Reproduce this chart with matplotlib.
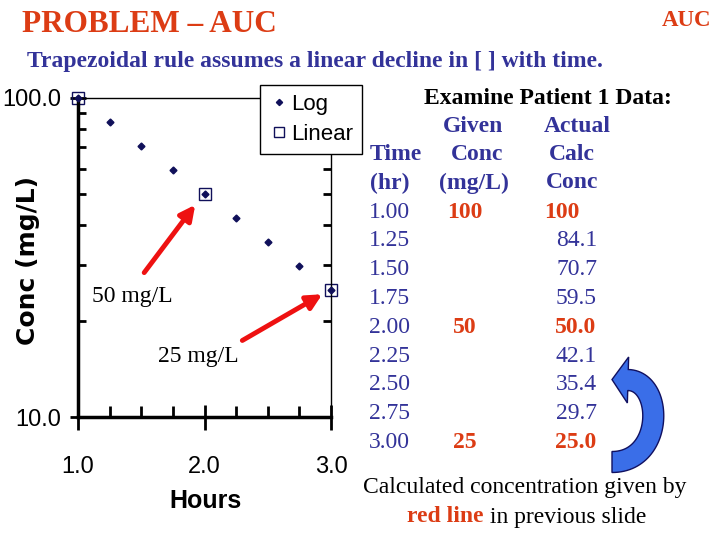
import numpy as np
import matplotlib
matplotlib.use("Agg")
import matplotlib.pyplot as plt
from matplotlib.patches import Polygon
from matplotlib.ticker import LogLocator, NullFormatter, FixedLocator

# data (patient 1)
hours = [1.00, 1.25, 1.50, 1.75, 2.00, 2.25, 2.50, 2.75, 3.00]
calc_conc = [100, 84.1, 70.7, 59.5, 50.0, 42.1, 35.4, 29.7, 25.0]
given_hours = [1.0, 2.0, 3.0]
given_conc = [100, 50, 25]

time_labels = ["1.00", "1.25", "1.50", "1.75", "2.00", "2.25", "2.50", "2.75", "3.00"]
given_labels = ["100", "", "", "", "50", "", "", "", "25"]
calc_labels = ["100", "84.1", "70.7", "59.5", "50.0", "42.1", "35.4", "29.7", "25.0"]

NAVY = "#333399"
RED = "#dc3c14"
SERIF = ["Liberation Serif", "DejaVu Serif"]
SANS = ["Liberation Sans", "DejaVu Sans"]
FS = 17

fig = plt.figure(figsize=(7.2, 5.4), dpi=100)

def px(x, y):
    return (x / 720, 1 - y / 540)

ax = fig.add_axes([78 / 720, 1 - 417 / 540, 253 / 720, 319 / 540])
ax.set_yscale("log")
ax.set_xlim(1.0, 3.0)
ax.set_ylim(10, 100)

ax.plot(hours, calc_conc, linestyle="none", marker="D", markersize=3.5,
        color="#10105a", label="Log", zorder=3, clip_on=False)
ax.plot(given_hours, given_conc, linestyle="none", marker="s", markersize=8,
        markerfacecolor="none", markeredgecolor="#10105a", markeredgewidth=1,
        label="Linear", clip_on=False, zorder=2)

for s in ["left", "bottom"]:
    ax.spines[s].set_linewidth(2.5)
for s in ["top", "right"]:
    ax.spines[s].set_linewidth(1)

ax.yaxis.set_major_locator(FixedLocator([10, 100]))
ax.yaxis.set_minor_locator(LogLocator(base=10, subs=range(2, 10)))
ax.yaxis.set_minor_formatter(NullFormatter())
ax.set_yticklabels(["10.0", "100.0"])
ax.xaxis.set_major_locator(FixedLocator([1.0, 2.0, 3.0]))
ax.xaxis.set_minor_locator(FixedLocator([1.25, 1.5, 1.75, 2.25, 2.5, 2.75]))
ax.set_xticklabels(["1.0", "2.0", "3.0"])

ax.tick_params(axis="y", which="major", direction="inout", length=12, width=2, pad=6)
ax.tick_params(axis="y", which="minor", direction="in", length=6, width=2, right=True)
ax.tick_params(axis="x", which="major", direction="inout", length=18, width=2, pad=19)
ax.tick_params(axis="x", which="minor", direction="in", length=8, width=2)
for lab in ax.get_xticklabels() + ax.get_yticklabels():
    lab.set_family(SANS)
    lab.set_fontsize(17)

ax.set_xlabel("Hours", family=SANS, fontsize=18, fontweight="bold")
ax.xaxis.set_label_coords(0.505, -0.225)
ax.set_ylabel("Conc (mg/L)", family=["DejaVu Sans"], fontsize=18, fontweight="bold")
ax.yaxis.set_label_coords(-0.15, 0.49)

leg = ax.legend(loc="upper left", bbox_to_anchor=px(260, 85), bbox_transform=fig.transFigure,
                frameon=True, fancybox=False, edgecolor="black", framealpha=1,
                prop={"family": SANS, "size": 16}, handletextpad=0.1, borderaxespad=0,
                handlelength=0.9, borderpad=0.4, labelspacing=0.4, markerscale=0.9)
leg.get_frame().set_linewidth(1)
leg.set_zorder(5)

# red arrows and labels
arrow_kw = dict(arrowstyle="-|>,head_length=0.9,head_width=0.45", color="#ee1111", lw=3.5)
ax.annotate("", xy=(1.94, 47), xytext=(1.51, 27.9), arrowprops=arrow_kw)
ax.annotate("", xy=(2.95, 24.5), xytext=(2.28, 17.2), arrowprops=arrow_kw)
ax.text(1.11, 23.9, "50 mg/L", family=SERIF, fontsize=FS, va="center", ha="left")
ax.text(1.632, 15.5, "25 mg/L", family=SERIF, fontsize=FS, va="center", ha="left")

# titles
fig.text(*px(22, 24), "PROBLEM \u2013 AUC", family=SERIF, fontsize=22.5, fontweight="bold",
         color=RED, va="center", ha="left")
fig.text(*px(711, 20), "AUC", family=SERIF, fontsize=16.5, fontweight="bold",
         color=RED, va="center", ha="right")
fig.text(*px(27, 62), "Trapezoidal rule assumes a linear decline in [ ] with time.",
         family=SERIF, fontsize=17, fontweight="bold", color=NAVY, va="center", ha="left")

# table
fig.text(*px(548, 98), "Examine Patient 1 Data:", family=SERIF, fontsize=FS,
         fontweight="bold", color="black", va="center", ha="center")
hdr = dict(family=SERIF, fontsize=FS, fontweight="bold", color=NAVY, va="center", ha="center")
fig.text(*px(473, 126), "Given", **hdr)
fig.text(*px(577, 126), "Actual", **hdr)
fig.text(*px(396, 154), "Time", **hdr)
fig.text(*px(477, 154), "Conc", **hdr)
fig.text(*px(572, 154), "Calc", **hdr)
fig.text(*px(390, 183), "(hr)", **hdr)
fig.text(*px(474, 183), "(mg/L)", **hdr)
fig.text(*px(572, 183), "Conc", **hdr)

row_y0 = 212
row_dy = 28.8
for i, (t, g, c) in enumerate(zip(time_labels, given_labels, calc_labels)):
    y = row_y0 + i * row_dy
    fig.text(*px(369, y), t, family=SERIF, fontsize=FS, color=NAVY, va="center", ha="left")
    if g:
        fig.text(*px(465, y), g, family=SERIF, fontsize=FS, fontweight="bold",
                 color=RED, va="center", ha="center")
        fig.text(*px(596 if i else 579, y), c, family=SERIF, fontsize=FS, fontweight="bold",
                 color=RED, va="center", ha="right")
    else:
        fig.text(*px(597, y), c, family=SERIF, fontsize=FS, color=NAVY, va="center", ha="right")

# blue curved arrow: band along a cubic curve plus a triangular head (pixel space)
P = np.array([[612, 462], [664, 462], [664, 381], [628, 380]], dtype=float)
tt = np.linspace(0, 1, 60)[:, None]
B = ((1 - tt) ** 3 * P[0] + 3 * (1 - tt) ** 2 * tt * P[1]
     + 3 * (1 - tt) * tt ** 2 * P[2] + tt ** 3 * P[3])
dB = (3 * (1 - tt) ** 2 * (P[1] - P[0]) + 6 * (1 - tt) * tt * (P[2] - P[1])
      + 3 * tt ** 2 * (P[3] - P[2]))
d = dB / np.linalg.norm(dB, axis=1, keepdims=True)
n = np.column_stack([-d[:, 1], d[:, 0]])
half_w = 10.5
side1 = B + n * half_w
side2 = B - n * half_w
head = np.array([P[3] + n[-1] * 23, P[3] + d[-1] * 16, P[3] - n[-1] * 23])
outline = np.vstack([side1, head, side2[::-1]])
outline_fig = np.array([px(x, y) for x, y in outline])
fig.patches.append(Polygon(outline_fig, closed=True, transform=fig.transFigure,
                           facecolor="#3a6ee8", edgecolor="#101060", lw=1))

fig.text(*px(525, 488), "Calculated concentration given by", family=SERIF, fontsize=FS,
         color="black", va="center", ha="center")
t1 = fig.text(*px(407, 517), "red line", family=SERIF, fontsize=FS, fontweight="bold",
              color=RED, va="center", ha="left")
ax.annotate(" in previous slide", xy=(1, 0.5), xycoords=t1, family=SERIF, fontsize=FS,
            color="black", va="center", ha="left", annotation_clip=False)

fig.savefig("out.png", dpi=100)
